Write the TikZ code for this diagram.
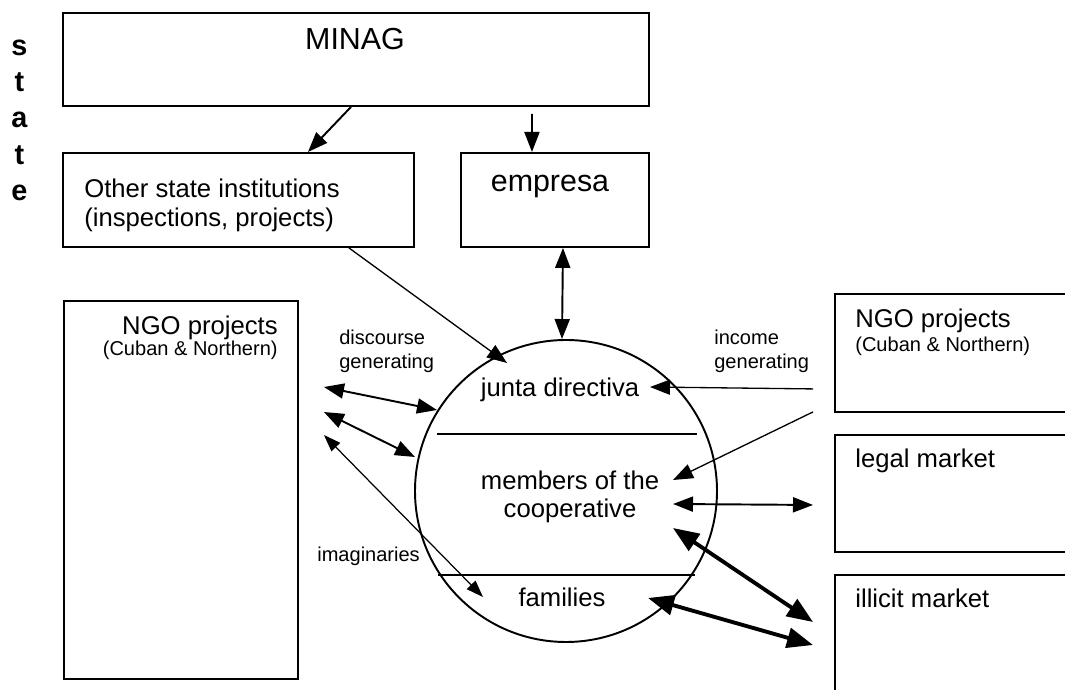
\documentclass[tikz,border=0pt]{standalone}
\usepackage{fontspec}
\setmainfont{Liberation Sans}
\usetikzlibrary{arrows.meta}

\tikzset{
  box/.style={draw, line width=1.1pt, inner sep=0pt, anchor=north west},
  bigtxt/.style={font=\fontsize{17.3}{20}\selectfont, anchor=base, inner sep=0pt},
  midtxt/.style={font=\fontsize{14.6}{17}\selectfont, inner sep=0pt},
  smalltxt/.style={font=\fontsize{11.4}{13.5}\selectfont, inner sep=0pt},
  statetxt/.style={font=\fontsize{16.4}{19}\selectfont\bfseries, anchor=base, inner sep=0pt},
  thinarr/.style={line width=0.75pt},
  midarr/.style={line width=1.1pt},
  thickarr/.style={line width=2.2pt, >={Triangle[length=0.52cm,width=0.4cm]}},
  imagarr/.style={line width=0.7pt, >={Triangle[length=0.34cm,width=0.24cm]}}
}

\begin{document}
\begin{tikzpicture}[>={Triangle[length=0.4cm,width=0.3cm]}]
        \useasboundingbox (0,0) rectangle (21.3,13.8);
        % state, written downwards
        \foreach \letter [count=\i] in {s,t,a,t,e}
          \node[statetxt] (state\i) at (0.39,13.415-0.725*\i) {\letter};
        % boxes
        \node[box, minimum width=11.72cm, minimum height=1.86cm] (minag) at (1.24,13.56) {};
        \node[box, minimum width=7.02cm, minimum height=1.88cm] (other) at (1.24,10.76) {};
        \node[box, minimum width=3.76cm, minimum height=1.88cm] (empresa) at (9.2,10.76) {};
        \node[box, minimum width=4.68cm, minimum height=7.56cm] (ngoleft) at (1.26,7.8) {};
        \node[box, minimum width=5.2cm, minimum height=2.36cm] (ngoright) at (16.68,7.94) {};
        \node[box, minimum width=5.2cm, minimum height=2.34cm] (legal) at (16.68,5.12) {};
        \node[box, minimum width=5.2cm, minimum height=2.8cm] (illicit) at (16.68,2.32) {};
        \node[draw, circle, line width=1.1pt, minimum size=6.04cm, inner sep=0pt] (coop) at (11.32,3.98) {};
        \draw[line width=1.1pt] ([shift={(-2.58,1.14)}]coop.center) -- ([shift={(2.62,1.14)}]coop.center);
        \draw[line width=1.1pt] ([shift={(-2.56,-1.68)}]coop.center) -- ([shift={(2.58,-1.68)}]coop.center);
        % texts
        \node[bigtxt] (minagtxt) at (7.1,12.8) {MINAG};
        \node[bigtxt] (empresatxt) at (11.0,9.96) {empresa};
        \node[midtxt, anchor=base west] (othertxt) at (1.68,9.84) {Other state institutions};
        \node[midtxt, anchor=base west] (othersub) at (1.68,9.26) {(inspections, projects)};
        \node[midtxt, anchor=base east] (ngolefttxt) at (5.56,7.1) {NGO projects};
        \node[smalltxt, anchor=base east] (ngoleftsub) at (5.56,6.68) {(Cuban \& Northern)};
        \node[midtxt, anchor=base west] (ngorighttxt) at (17.1,7.24) {NGO projects};
        \node[smalltxt, anchor=base west] (ngorightsub) at (17.1,6.76) {(Cuban \& Northern)};
        \node[midtxt, anchor=base west] (legaltxt) at (17.1,4.44) {legal market};
        \node[midtxt, anchor=base west] (illicittxt) at (17.1,1.64) {illicit market};
        \node[midtxt, anchor=base] (junta) at (11.2,5.86) {junta directiva};
        \node[midtxt, anchor=base] (members) at (11.4,4.0) {members of the};
        \node[midtxt, anchor=base] (coopers) at (11.4,3.44) {cooperative};
        \node[midtxt, anchor=base] (families) at (11.24,1.66) {families};
        \node[smalltxt, anchor=base west] (discourse) at (6.78,6.9) {discourse};
        \node[smalltxt, anchor=base west] (discgen) at (6.78,6.42) {generating};
        \node[smalltxt, anchor=base west] (income) at (14.28,6.9) {income};
        \node[smalltxt, anchor=base west] (incgen) at (14.28,6.42) {generating};
        \node[smalltxt, anchor=base west] (imagin) at (6.34,2.56) {imaginaries};
        % state arrows
        \draw[midarr, ->] ([xshift=-0.1cm]minag.south) -- ([xshift=1.39cm]other.north);
        \draw[midarr, ->] ([shift={(3.52,-0.14)}]minag.south) -- ([xshift=-0.46cm]empresa.north);
        \draw[midarr, <->] ([xshift=0.16cm]empresa.south) -- ([xshift=-0.08cm]coop.north);
        \draw[thinarr, ->] ([xshift=2.21cm]other.south) -- ([shift={(-1.18,2.56)}]coop.center);
        % left side
        \draw[midarr, <->] ([shift={(0.5,-1.74)}]ngoleft.north east) -- ([shift={(-2.58,1.62)}]coop.center);
        \draw[midarr, <->] ([shift={(0.5,-2.24)}]ngoleft.north east) -- ([shift={(-3.02,0.68)}]coop.center);
        \draw[imagarr, <->] ([shift={(0.5,-2.7)}]ngoleft.north east) -- ([shift={(-1.66,-2.12)}]coop.center);
        % right side
        \draw[thinarr, ->] ([shift={(-0.42,0.48)}]ngoright.south west) -- ([shift={(1.68,2.08)}]coop.center);
        \draw[thinarr, ->] ([shift={(-0.42,0.02)}]ngoright.south west) -- ([shift={(2.14,0.22)}]coop.center);
        \draw[midarr, <->] ([shift={(2.14,-0.26)}]coop.center) -- ([shift={(-0.42,-0.23)}]legal.west);
        \draw[thickarr, <->] ([shift={(2.14,-0.74)}]coop.center) -- ([shift={(-0.42,-0.96)}]illicit.north west);
        \draw[thickarr, <->] ([shift={(1.64,-2.14)}]coop.center) -- ([shift={(-0.42,-1.42)}]illicit.north west);
\end{tikzpicture}
\end{document}
